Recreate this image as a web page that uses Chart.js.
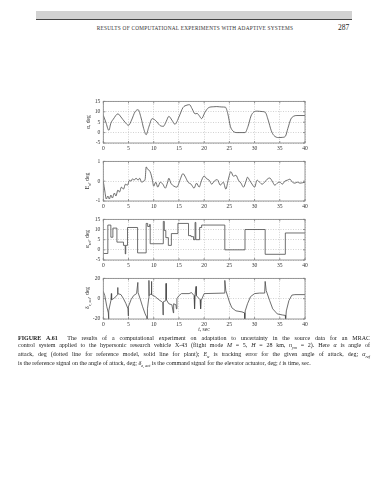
<!DOCTYPE html>
<html>
<head>
<meta charset="utf-8">
<script src="https://cdn.jsdelivr.net/npm/chart.js@4.4.0/dist/chart.umd.min.js"></script>
<style>
html, body { margin: 0; padding: 0; background: #fff; }
body { width: 388px; height: 480px; position: relative; overflow: hidden; font-family: "Liberation Serif", serif; color: #222; }
#bar { position: absolute; left: 36px; top: 11px; width: 316px; height: 7.5px; background: #d2d2d2; border-bottom: 1.3px solid #444; }
#runhead { position: absolute; left: 60px; width: 270px; top: 24.5px; font-size: 5.3px; text-align: center; letter-spacing: 0.25px; color: #333; }
#folio { position: absolute; left: 338px; top: 22.5px; font-size: 7.5px; color: #222; }
canvas { position: absolute; left: 50px; }
.ylab { position: absolute; left: 88px; font-size: 5.6px; white-space: nowrap; transform: translate(-50%, -50%) rotate(-90deg); color: #333; }
.ylab sub { font-size: 4px; }
#xlab { position: absolute; left: 204px; top: 329px; transform: translate(-50%, -50%); font-size: 5.6px; color: #333; }
#cap { position: absolute; left: 18px; top: 335px; width: 352px; font-size: 6px; line-height: 7px; color: #222; }
#cap div { text-align: justify; text-align-last: justify; white-space: nowrap; }
#cap div.last { text-align-last: left; }
#cap sub { font-size: 4.2px; }
</style>
</head>
<body>
<div id="bar"></div>
<div id="runhead">RESULTS OF COMPUTATIONAL EXPERIMENTS WITH ADAPTIVE SYSTEMS</div>
<div id="folio">287</div>

<canvas id="c1"></canvas>
<canvas id="c2"></canvas>
<canvas id="c3"></canvas>
<canvas id="c4"></canvas>

<div class="ylab" style="top:121.5px">α, deg</div>
<div class="ylab" style="top:180.5px">E<sub>α</sub>, deg</div>
<div class="ylab" style="top:239px">α<sub>ref</sub>, deg</div>
<div class="ylab" style="top:298px">δ<sub>e, act</sub>, deg</div>
<div id="xlab"><i>t</i>, sec</div>

<div id="cap">
<div><b>FIGURE A.61</b>&nbsp; The results of a computational experiment on adaptation to uncertainty in the source data for an MRAC</div>
<div>control system applied to the hypersonic research vehicle X-43 (flight mode <i>M</i> = 5, <i>H</i> = 28 km, <i>n<sub>ym</sub></i> = 2). Here <i>α</i> is angle of</div>
<div>attack, deg (dotted line for reference model, solid line for plant); <i>E<sub>α</sub></i> is tracking error for the given angle of attack, deg; <i>α<sub>ref</sub></i></div>
<div class="last">is the reference signal on the angle of attack, deg; <i>δ<sub>e, act</sub></i> is the command signal for the elevator actuator, deg; <i>t</i> is time, sec.</div>
</div>

<script>
// 目盛り
const xTicks = [0, 5, 10, 15, 20, 25, 30, 35, 40];
const alphaTicks = [-5, 0, 5, 10, 15];
const errTicks = [-1, 0, 1];
const refTicks = [-5, 0, 5, 10, 15];
const deltaTicks = [-20, 0, 20];

// 迎角 alpha (plant)
const tAlpha = [0, 0.5, 1.1, 1.5, 2.0, 2.9, 3.5, 4.3, 5.0, 5.6, 6.3, 6.9, 7.5, 8.0, 8.5, 9.0, 9.7, 10.5, 11.2, 11.9,
  12.5, 13.0, 13.6, 14.2, 15.0, 15.8, 16.6, 17.1, 17.6, 18.2, 18.6, 19.0, 19.5, 20.1, 20.9, 21.8, 22.5, 23.5, 24.2, 24.7,
  25.2, 25.7, 26.5, 27.5, 28.1, 28.7, 29.3, 29.8, 30.5, 31.5, 32.1, 32.7, 33.3, 33.8, 34.8, 35.5, 36.1, 36.6, 37.2, 37.7, 38.4, 40];
const alphaVals = [8.3, 5, 1.1, 4.5, 6.5, 9, 7.5, 5, 3.5, 6, 10, 11, 7, 2, -1, 2.5, 6.7, 5.5, 3.5, 3,
  5.5, 7.8, 6, 4, 7.5, 12, 13.2, 13.4, 11.5, 9, 9.2, 8.2, 6.7, 9.5, 12, 12.4, 12.5, 12.3, 12.2, 9,
  3, 0.8, 0, 0, 0, 3, 8, 9.8, 10.3, 10.1, 9.8, 6, 1, -1.3, -2.4, -2.3, -1.8, 2, 6.5, 7.8, 8.2, 8.2];

// 追従誤差 E_alpha
const tErr = [0, 0.3, 0.6, 0.9, 1.2, 1.5, 1.8, 2.2, 2.5, 2.9, 3.2, 3.6, 4.0, 4.4, 4.8, 5.2, 5.5, 5.8, 6.1, 6.5,
  6.9, 7.2, 7.6, 8.0, 8.3, 8.5, 8.8, 9.1, 9.4, 9.7, 10.0, 10.4, 10.8, 11.3, 11.8, 12.3, 12.7, 13.0, 13.4, 14.0,
  14.6, 15.2, 15.8, 16.3, 16.8, 17.4, 18.0, 18.5, 19.0, 19.5, 20.0, 20.5, 21.0, 21.5, 22.0, 22.6, 23.2, 23.8, 24.3, 24.8,
  25.3, 25.8, 26.3, 26.8, 27.3, 27.8, 28.3, 28.6, 29.0, 29.5, 30.0, 30.5, 31.0, 31.5, 32.0, 32.5, 33.0, 33.5, 34.0, 34.5,
  35.0, 35.5, 36.0, 36.5, 37.0, 37.5, 38.0, 38.5, 39.0, 40];
const errVals = [0, -0.5, -0.9, -0.75, -0.9, -0.7, -0.85, -0.6, -0.75, -0.45, -0.55, -0.3, -0.4, -0.15, -0.2, 0.05, 0, 0.12, 0.05, 0.15,
  0.05, 0.15, -0.05, 0, 0.1, 0.72, 0.6, 0.55, 0.4, 0.1, -0.25, -0.05, -0.3, -0.05, -0.15, -0.35, -0.1, 0.15, -0.1, -0.25,
  -0.3, 0.05, 0.38, 0.2, -0.05, -0.15, -0.35, -0.1, -0.3, 0.05, 0.26, 0.12, 0.05, -0.15, 0, 0.08, -0.2, -0.05, -0.4, 0.1,
  0.48, 0.25, 0.3, 0.05, -0.1, -0.3, 0, 0.2, 0.05, -0.15, -0.3, 0.05, -0.05, -0.15, -0.05, 0.1, 0.16, 0, -0.2, -0.1,
  -0.05, -0.15, 0, 0.05, 0.1, -0.05, -0.1, -0.05, -0.1, -0.05];

// 参照信号 alpha_ref (ステップ)
const tRef = [0, 0.9, 1.5, 1.9, 2.7, 4.0, 4.35, 4.45, 4.8, 6.8, 8.5, 8.8, 9.2, 9.3, 11.9, 12.1, 12.4, 12.9, 13.5, 14.8,
  16.9, 17.4, 17.9, 18.2, 18.35, 19.1, 19.5, 24.1, 28.1, 32.1, 36.1, 40];
const refVals = [-1.8, 12.2, 6.2, 10.7, 3.8, 2.2, -2, 2.2, 11, -1.5, 13, 11.5, 12.5, 3, 14, 9.5, 6, 2.2, 8, 13,
  7, 6.5, 5, 13.5, 5, 11, 12.2, 0, 10, -2.2, 8.3, 8.3];

// 舵面指令 delta_e,act
const tDelta = [0, 0.3, 0.7, 1.0, 1.05, 1.1, 1.5, 1.6, 1.65, 2.0, 2.5, 2.8, 2.85, 2.9, 3.5, 4.0, 4.5, 4.9, 4.95, 5.0,
  5.5, 6.0, 6.6, 6.85, 6.9, 7.3, 7.8, 8.3, 8.6, 8.7, 8.75, 9.0, 9.05, 9.1, 9.5, 9.55, 9.6, 10.3, 11.0, 11.6,
  11.8, 11.85, 11.9, 12.4, 12.45, 12.5, 13.0, 13.6, 13.9, 13.95, 14.4, 14.5, 14.6, 15.0, 15.5, 17.0, 17.5, 18.0, 18.1, 18.2,
  18.4, 18.45, 19.2, 19.3, 19.4, 20.0, 24.0, 24.1, 24.3, 25.0, 25.5, 26.3, 27.5, 28.0, 28.05, 28.15, 28.6, 29.2, 30.0, 31.0,
  32.0, 32.1, 32.3, 33.0, 33.6, 34.5, 35.5, 36.1, 36.15, 36.3, 36.8, 37.4, 38.0, 40];
const deltaVals = [7, 3, -8, -14, -21, -12, -2, 5, -1, 0, 2, 4, 11, 5, 4, 0, -5, -10, -17, -8,
  -1, 3, 5, 16, 6, 0, -8, -15, -18, -24, -10, 0, 18, 3, 5, 17, 4, 2, -1, -3,
  -4, -16, -3, -2, 15, -1, -5, -6, -14, -5, -6, -10, 0, 3, 5, 5, 6, 3, -10, 4,
  12, 3, -1, -10, -2, 5, 5.5, 18, 8, -3, -9, -12, -13, -14, -21, -12, -5, 2, 5, 5.5,
  5.5, 17, 8, -2, -10, -15, -16, -16.5, -21, -12, -2, 3.5, 4, 4];

function toPoints(ts, vs) {
  return ts.map((t, i) => ({ x: t, y: vs[i] }));
}

// 枠と内向きの目盛り線
const frame = {
  id: 'frame',
  afterDatasetsDraw(chart) {
    const { ctx, chartArea: a, scales } = chart;
    ctx.save();
    ctx.strokeStyle = '#808080';
    ctx.lineWidth = 0.8;
    ctx.strokeRect(a.left, a.top, a.right - a.left, a.bottom - a.top);
    ctx.beginPath();
    scales.x.ticks.forEach(tk => {
      const px = scales.x.getPixelForValue(tk.value);
      ctx.moveTo(px, a.bottom); ctx.lineTo(px, a.bottom - 2);
      ctx.moveTo(px, a.top); ctx.lineTo(px, a.top + 2);
    });
    scales.y.ticks.forEach(tk => {
      const py = scales.y.getPixelForValue(tk.value);
      ctx.moveTo(a.left, py); ctx.lineTo(a.left + 2, py);
      ctx.moveTo(a.right, py); ctx.lineTo(a.right - 2, py);
    });
    ctx.stroke();
    ctx.restore();
  }
};

const tickFont = { family: 'Liberation Serif', size: 5.6 };

function panel(id, top, height, ts, vs, yTicks, lineOpts) {
  const cv = document.getElementById(id);
  cv.width = 270;
  cv.height = height;
  cv.style.top = top + 'px';
  new Chart(cv, {
    type: 'line',
    data: {
      datasets: [Object.assign({
        data: toPoints(ts, vs),
        borderColor: '#4a4a4a',
        borderWidth: 0.8,
        pointRadius: 0,
        fill: false
      }, lineOpts)]
    },
    options: {
      responsive: false,
      animation: false,
      events: [],
      layout: { padding: { top: 5, right: 15, left: 0, bottom: 0 } },
      plugins: { legend: { display: false }, tooltip: { enabled: false } },
      scales: {
        x: {
          type: 'linear', min: 0, max: 40,
          afterBuildTicks: s => { s.ticks = xTicks.map(v => ({ value: v })); },
          afterFit: s => { s.height = 10; },
          grid: { color: '#b4b4b4', lineWidth: 0.6, drawTicks: false },
          border: { display: false, dash: [1, 1.5] },
          ticks: { padding: 2.5, font: tickFont, color: '#333', maxRotation: 0, autoSkip: false }
        },
        y: {
          type: 'linear', min: yTicks[0], max: yTicks[yTicks.length - 1],
          afterBuildTicks: s => { s.ticks = yTicks.map(v => ({ value: v })); },
          afterFit: s => { s.width = 53.3; },
          grid: { color: '#b4b4b4', lineWidth: 0.6, drawTicks: false },
          border: { display: false, dash: [1, 1.5] },
          ticks: { padding: 3, font: tickFont, color: '#333', autoSkip: false }
        }
      }
    },
    plugins: [frame]
  });
}

panel('c1', 95, 58, tAlpha, alphaVals, alphaTicks, { tension: 0.4, cubicInterpolationMode: 'monotone' });
panel('c2', 155, 56, tErr, errVals, errTicks, { tension: 0.4, cubicInterpolationMode: 'monotone' });
panel('c3', 213, 57, tRef, refVals, refTicks, { stepped: true });
panel('c4', 272, 57, tDelta, deltaVals, deltaTicks, { tension: 0 });
</script>
</body>
</html>
